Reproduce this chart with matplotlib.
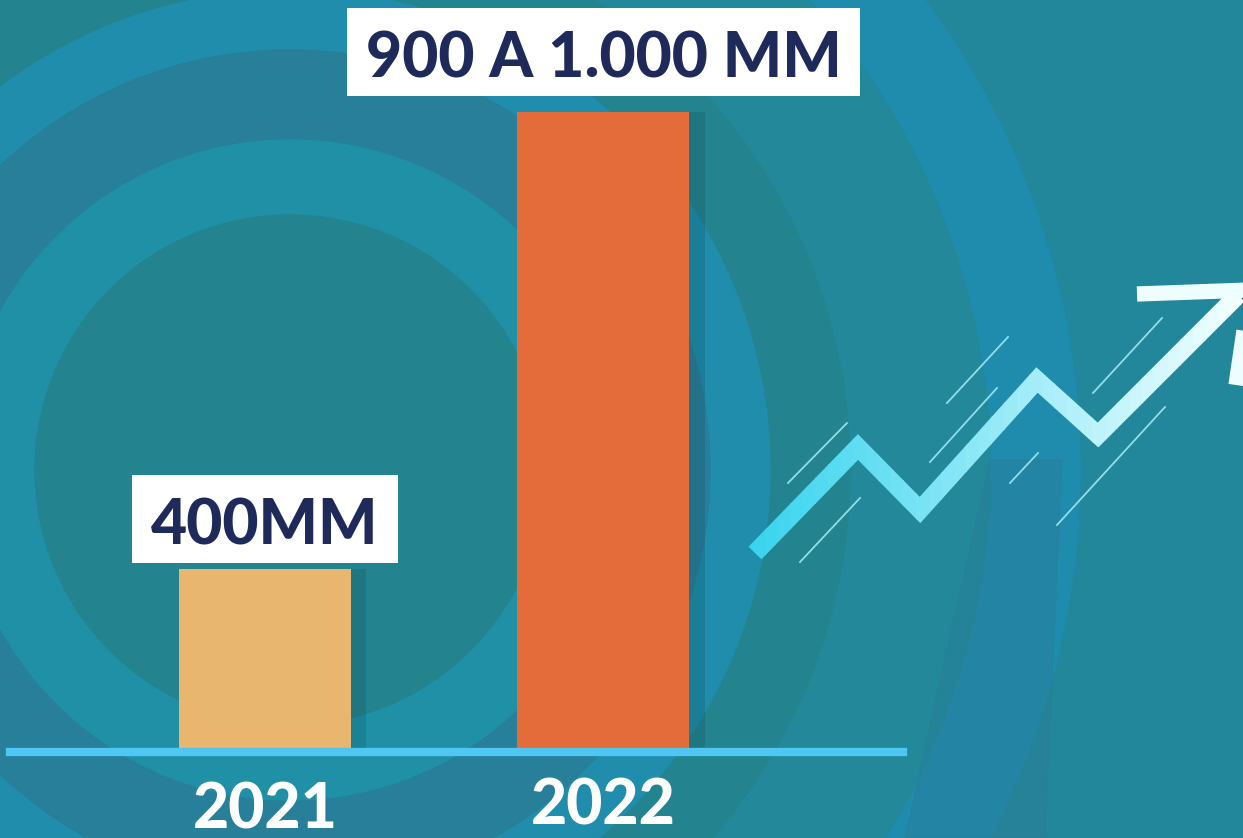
import matplotlib.pyplot as plt
import numpy as np
from matplotlib.patches import Wedge, Rectangle, Polygon
from matplotlib.path import Path
from matplotlib.colors import to_rgb

# data (bar heights follow the drawn proportions)
years = ['2021', '2022']
bar_heights = [400, 1400]
value_labels = ['400MM', '900 A 1.000 MM']
bar_colors = ['#e9b670', '#e46c3a']

W, H = 1243, 838
NAVY = '#1e2a5a'
FONT = 'Lato'

fig = plt.figure(figsize=(W / 100, H / 100), dpi=100)

# ---------- decorative background, in pixel coordinates ----------
bg = fig.add_axes([0, 0, 1, 1])
bg.set_xlim(0, W)
bg.set_ylim(H, 0)
bg.axis('off')
bg.add_patch(Rectangle((0, 0), W, H, color='#22879a', zorder=0))

TEAL = '#23848f'
BLUE = '#1f8dab'
DBLUE = '#277f99'
c = (290, 470)
rings = [  # outer radius, width, colour
    (790, 90, '#1f8cad'),
    (700, 140, '#22889a'),
    (560, 80, TEAL),
    (480, 60, BLUE),
    (420, 90, DBLUE),
    (330, 75, '#1f90a6'),
    (255, 255, TEAL),
]
for r, w, col in rings:
    bg.add_patch(Wedge(c, r, 0, 360, width=w, color=col, zorder=1))
# darker slanted strip behind the zigzag
bg.add_patch(Polygon([(990, 460), (1062, 460), (1045, 838), (905, 838)],
                     color='#2a7e98', alpha=0.45, zorder=1))

# zigzag arrow with a left-to-right gradient
zx = [755, 858, 920, 1037, 1098, 1238]
zy = [553, 447, 510, 380, 435, 295]
c0, c1 = np.array(to_rgb('#35d3ee')), np.array(to_rgb('#f2ffff'))
n_strips = 40
edges = np.linspace(740, W, n_strips + 1)
for k in range(n_strips):
    t = k / (n_strips - 1)
    ln, = bg.plot(zx, zy, color=c0 + (c1 - c0) * t, lw=13,
                  solid_joinstyle='miter', solid_capstyle='butt', zorder=5)
    strip = Rectangle((edges[k], 0), edges[k + 1] - edges[k] + 0.5, H,
                      transform=bg.transData)
    ln.set_clip_path(strip)

# arrow head
bg.plot([1137, 1250, 1236], [294, 290, 385], color='#eefeff', lw=11,
        solid_joinstyle='miter', solid_capstyle='butt', zorder=6)

# thin speed streaks
streaks = [((788, 483), (847, 423)), ((800, 562), (860, 498)),
           ((930, 462), (997, 388)), ((947, 403), (1008, 337)),
           ((1010, 483), (1038, 453)), ((1093, 393), (1162, 318)),
           ((1057, 525), (1165, 407))]
for (x0, y0), (x1, y1) in streaks:
    bg.plot([x0, x1], [y0, y1], color='#a6edf7', lw=1.3, alpha=0.85, zorder=4)

# ---------- the bar chart ----------
base_px = 752
ax = fig.add_axes([10 / W, (H - base_px) / H, 893 / W, 640 / H])
ax.patch.set_alpha(0)
ax.set_xlim(-0.753, 1.885)
ax.set_ylim(0, max(bar_heights))
ax.axis('off')

x = np.arange(len(years))
ax.bar(x + 0.045, bar_heights, width=0.508, color='black', alpha=0.10, zorder=1)
ax.bar(x, bar_heights, width=0.508, color=bar_colors, zorder=2)
ax.axhline(0, color='#4fc7f2', lw=6, zorder=3, clip_on=False)


def label_box(x0, y0, width, height, mutation_size):
    # white box with separate side / top / bottom padding (pixels)
    px, pb, pt = 19, 8, 22
    x0, y0 = x0 - px, y0 - pb
    x1, y1 = x0 + width + 2 * px, y0 + height + pb + pt
    return Path([(x0, y0), (x1, y0), (x1, y1), (x0, y1), (x0, y0)],
                closed=True)


label_gap_px = [25, 35]
year_drop_px = [-76, -72]
for i in range(len(years)):
    ax.annotate(value_labels[i], xy=(x[i], bar_heights[i]),
                xytext=(0, label_gap_px[i]), textcoords='offset pixels',
                ha='center', va='baseline', fontsize=45, fontweight='black',
                family=FONT, color=NAVY, zorder=6,
                bbox=dict(boxstyle=label_box, fc='white', ec='none'))
    ax.annotate(years[i], xy=(x[i], 0), xytext=(0, year_drop_px[i]),
                textcoords='offset pixels', ha='center', va='baseline',
                fontsize=45, fontweight='black', family=FONT, color='white',
                zorder=6, annotation_clip=False)

fig.savefig('out.png', dpi=100)
